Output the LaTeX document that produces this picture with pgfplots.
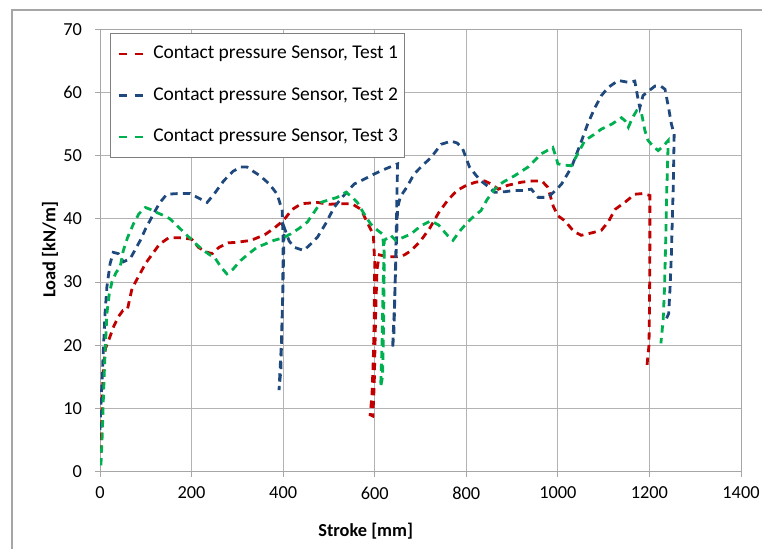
\documentclass[border=0pt]{standalone}
\usepackage{fontspec}
\setmainfont{Carlito}
\usepackage{pgfplots}
\pgfplotsset{compat=1.18}
\definecolor{tred}{HTML}{C00000}
\definecolor{tblue}{HTML}{1F497D}
\definecolor{tgreen}{HTML}{00B050}
\definecolor{gridc}{HTML}{B3B3B3}
\definecolor{axc}{HTML}{A6A6A6}
\definecolor{framec}{HTML}{A6A6A6}
\definecolor{legc}{HTML}{808080}
\begin{document}
\fontsize{13.75}{16.5}\selectfont
\begin{tikzpicture}
\path[use as bounding box] (0,0) rectangle (571.5pt,411.75pt);
\draw[framec, line width=1.5pt] (9pt,0) -- (9pt,404.25pt) -- (571.5pt,404.25pt);
\begin{axis}[at={(75pt,58pt)}, anchor=south west, scale only axis,
  width=480.75pt, height=331.8pt,
  xmin=0, xmax=1400, ymin=0, ymax=70,
  xtick={0,200,...,1400}, ytick={0,10,...,70},
  grid=major, major grid style={gridc, line width=0.75pt},
  axis line style={axc, line width=0.75pt},
  tick pos=left, tick align=outside, major tick length=3.75pt,
  tick style={axc, line width=0.75pt},
  ticklabel style={font=\fontsize{13.75}{16.5}\selectfont},
  /pgf/number format/assume math mode=true,
  /pgf/number format/set thousands separator={},
  yticklabel style={xshift=-5pt},
  xticklabel style={yshift=-3pt},
  xlabel={Stroke [mm]}, ylabel={Load [kN/m]},
  label style={font=\fontsize{13.75}{16.5}\selectfont\bfseries},
  xlabel style={at={(axis description cs:0.4145,-0.134)}, anchor=center},
  ylabel style={at={(axis description cs:-0.078,0.502)}, anchor=center},
  every axis plot/.append style={line width=2.1pt, dash pattern=on 5.5pt off 4pt},
  legend cell align=left,
  legend image code/.code={\draw[#1, dash pattern=on 6.4pt off 5.6pt] (0pt,0pt) -- (19.5pt,0pt);},
  legend style={at={(axis description cs:0.0156,0.9916)}, anchor=north west,
    draw=legc, line width=0.75pt, fill=white, inner xsep=5pt, inner ysep=8.8pt,
    row sep=17.9pt, font=\fontsize{14.6}{17.5}\selectfont,
    nodes={inner sep=0pt, text height=10.2pt, text depth=3pt},
    /tikz/every odd column/.append style={column sep=5.5pt}},
]
\addplot[tred] coordinates {
(2,3)(5,12)(8,17)(12,19.5)(20,21)(30,23)(40,24.5)(50,25.5)(60,25.7)(70,29)(85,31)(100,33)(115,34.5)(130,36)(150,37)(175,37)(200,36.8)(215,35.5)(230,34.8)(245,34.5)(260,35.5)(280,36.2)(300,36.3)(330,36.6)(360,37.5)(380,38.5)(400,39.7)(420,41.5)(440,42.4)(475,42.6)(500,42.3)(520,42.4)(550,42.4)(570,41.5)(580,40)(590,38.5)(597,37.5)(600,33)(599,25)(597,18)(594,12)(590,9)(596,8.8)(599,14)(602,25)(605,32)(610,34.3)(630,34)(650,34)(665,34.3)(680,35)(700,36.5)(720,38.5)(740,41)(760,43)(780,44.5)(800,45.3)(820,45.8)(840,46)(855,45.5)(870,44.7)(890,45.3)(920,45.8)(945,46)(965,46)(978,45)(990,42)(1000,40.5)(1015,39.7)(1035,38)(1051,37.4)(1075,37.8)(1095,38.2)(1110,39.5)(1125,41.5)(1146,42.6)(1168,43.9)(1185,44)(1201,43.7)(1201,35)(1200,25)(1199,20)(1194,16.3)
};
\addlegendentry{Contact pressure Sensor, Test 1}
\addplot[tblue] coordinates {
(0,6.6)(3,12)(7,18.7)(11,25)(15,29.2)(22,32.9)(29,34.7)(40,34.5)(51,33.2)(66,33.7)(88,36.6)(100,38.5)(117,40.8)(130,42.5)(146,43.9)(170,44)(197,44)(215,43.3)(234,42.6)(250,44)(270,46)(290,47.5)(307,48.2)(321,48.2)(335,47.5)(350,46.8)(370,45.5)(387,43.9)(398,41.3)(400,36)(399,28)(397,22)(395,16)(393,14.5)(391,12.9)(396,20)(400,30)(402,38.7)(413,36.5)(424,35.5)(445,35)(460,36)(475,37.1)(495,39.5)(511,41.8)(530,43.5)(555,45.5)(575,46.2)(599,47.1)(620,47.8)(650,48.7)(648,42)(646,35)(644,28)(642,22)(639,19.5)(643,26)(646,33)(650,41.8)(656,43.5)(670,45)(686,47.1)(705,48.5)(723,49.7)(745,51.8)(767,52.3)(780,52)(792,51.1)(807,48.2)(820,47)(832,46)(850,45)(862,44.2)(885,44.3)(905,44.5)(925,44.5)(942,44.7)(957,43.4)(978,43.4)(995,44.5)(1008,45.5)(1030,48.2)(1052,52.4)(1065,55)(1081,57.6)(1095,59.5)(1110,60.8)(1132,61.9)(1154,61.6)(1168,61.8)(1175,59)(1179,57.6)(1186,59.5)(1194,60)(1212,61)(1225,61)(1234,60.5)(1242,57.5)(1248,55)(1254,53.4)(1252,45)(1250,40)(1248,34.5)(1245,29)(1242,25)(1234,23.7)
};
\addlegendentry{Contact pressure Sensor, Test 2}
\addplot[tgreen] coordinates {
(2,1)(5,6)(7,10.8)(10,17)(15,25)(20,28)(26,30)(35,31.5)(44,32.4)(51,35)(60,37)(73,39.2)(85,40.8)(99,41.8)(110,41.5)(124,41)(140,40.5)(153,40)(170,38.8)(190,37.4)(210,36)(226,35)(252,33.7)(265,32.3)(277,31.3)(290,32)(307,33.4)(325,34.5)(343,35.5)(360,36)(380,36.6)(400,37)(416,37.6)(435,38.5)(453,39.5)(470,41.3)(482,42.6)(500,43)(518,43.4)(537,44.2)(550,43.5)(562,42.6)(575,41)(591,39.2)(606,38.2)(617,37.6)(621,34.5)(620,27)(619,21.3)(617,15)(613,13.4)(616,20)(618,28)(621,36.6)(635,37.4)(646,36.6)(660,37)(679,37.6)(701,38.9)(723,39.7)(740,39)(749,38.2)(760,37.3)(771,36.6)(785,38)(803,39.5)(818,40.5)(832,41.3)(845,43)(862,44.7)(880,45.8)(905,46.8)(920,47.5)(935,48.2)(950,49.3)(964,50.3)(989,51.3)(995,50)(1000,48.7)(1015,48.5)(1029,48.4)(1045,50.5)(1059,52.4)(1078,53.3)(1095,54.2)(1118,55)(1139,56)(1147,55.5)(1154,54.5)(1163,56)(1172,57.1)(1183,56.6)(1190,54)(1197,52.4)(1208,51.5)(1219,50.8)(1230,51.5)(1241,52.4)(1239,47)(1238,45)(1236,38)(1233,29.2)(1230,24)(1225,20.3)
};
\addlegendentry{Contact pressure Sensor, Test 3}
\end{axis}
\end{tikzpicture}
\end{document}
